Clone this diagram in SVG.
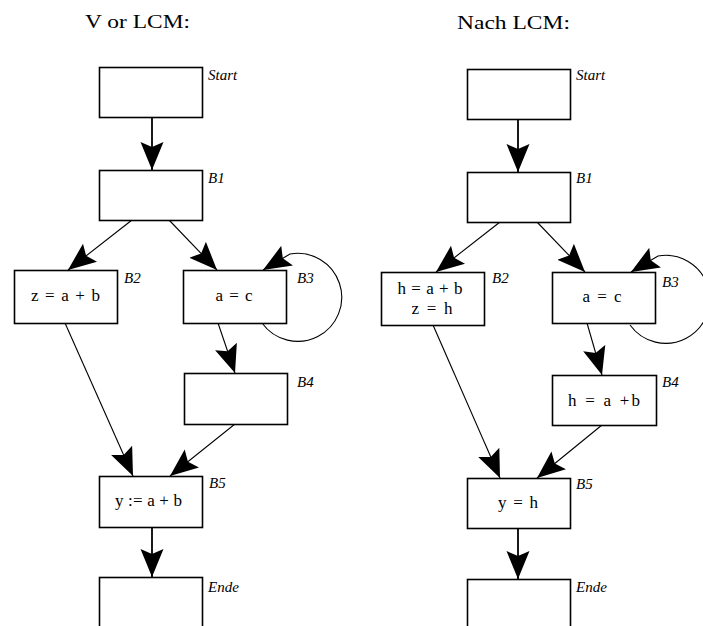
<svg xmlns="http://www.w3.org/2000/svg" width="703" height="626" viewBox="0 0 703 626">
<style>
.box{fill:#fff;stroke:#000;stroke-width:1.6}
.edge{fill:none;stroke:#000;stroke-width:1.1}
.vedge{fill:none;stroke:#000;stroke-width:1.8}
.t{font-family:"Liberation Serif",serif;font-size:17px;text-anchor:middle;fill:#000}
.lbl{font-family:"Liberation Serif",serif;font-style:italic;font-size:15px;fill:#000}
.title{font-family:"Liberation Serif",serif;font-size:19px;fill:#000}
</style>
<defs>
<marker id="ah" markerUnits="userSpaceOnUse" viewBox="0 0 28 24" refX="28" refY="12" markerWidth="28" markerHeight="24" orient="auto">
<path d="M0,0.5 L28,12 L0,23.5 L5,12 z" fill="#000"/>
</marker>
</defs>
<rect width="703" height="626" fill="#fff"/>
<text class="title" x="85" y="28" textLength="105" lengthAdjust="spacingAndGlyphs">V or LCM:</text>
<text class="title" x="457" y="29" textLength="113" lengthAdjust="spacingAndGlyphs">Nach LCM:</text>

<g id="connectors">
<path class="vedge" d="M152,117 L152,170" marker-end="url(#ah)"/>
<path class="edge" d="M132,220 L68,270" marker-end="url(#ah)"/>
<path class="edge" d="M169,220 L217,270" marker-end="url(#ah)"/>
<path class="edge" d="M262,323 A44,44 0 1 0 290,254 L263,270" marker-end="url(#ah)"/>
<path class="edge" d="M218,323 L235,373" marker-end="url(#ah)"/>
<path class="edge" d="M65,323 L133,476" marker-end="url(#ah)"/>
<path class="edge" d="M235,424 L170,476" marker-end="url(#ah)"/>
<path class="vedge" d="M152,527 L152,577" marker-end="url(#ah)"/>

<path class="vedge" d="M518,119 L518,172" marker-end="url(#ah)"/>
<path class="edge" d="M500,222 L436,272" marker-end="url(#ah)"/>
<path class="edge" d="M537,222 L585,272" marker-end="url(#ah)"/>
<path class="edge" d="M630,325 A44,44 0 1 0 658,256 L631,272" marker-end="url(#ah)"/>
<path class="edge" d="M587,323 L602,375" marker-end="url(#ah)"/>
<path class="edge" d="M433,325 L500,478" marker-end="url(#ah)"/>
<path class="edge" d="M602,425 L537,478" marker-end="url(#ah)"/>
<path class="vedge" d="M518,528 L518,579" marker-end="url(#ah)"/>
</g>

<g id="L-Start"><rect class="box" x="99.5" y="67.5" width="103" height="50"/><text class="lbl" x="208" y="80">Start</text></g>
<g id="L-B1"><rect class="box" x="99.5" y="170.5" width="103" height="50"/><text class="lbl" x="208" y="183">B1</text></g>
<g id="L-B2"><rect class="box" x="14.5" y="270.5" width="103" height="53"/><text class="t" x="65.5" y="301" textLength="69">z = a + b</text><text class="lbl" x="124" y="283">B2</text></g>
<g id="L-B3"><rect class="box" x="183.5" y="270.5" width="103" height="53"/><text class="t" x="234" y="301" textLength="37">a = c</text><text class="lbl" x="297" y="283">B3</text></g>
<g id="L-B4"><rect class="box" x="184.5" y="373.5" width="103" height="51"/><text class="lbl" x="297" y="387">B4</text></g>
<g id="L-B5"><rect class="box" x="99.5" y="476.5" width="103" height="51"/><text class="t" x="148.5" y="506" textLength="67">y := a + b</text><text class="lbl" x="209" y="488">B5</text></g>
<g id="L-Ende"><rect class="box" x="99.5" y="577.5" width="103" height="60"/><text class="lbl" x="208" y="592">Ende</text></g>

<g id="R-Start"><rect class="box" x="467.5" y="69.5" width="103" height="50"/><text class="lbl" x="576" y="80">Start</text></g>
<g id="R-B1"><rect class="box" x="467.5" y="172.5" width="103" height="50"/><text class="lbl" x="576" y="183">B1</text></g>
<g id="R-B2"><rect class="box" x="381.5" y="272.5" width="103" height="53"/><text class="t" x="430" y="294" textLength="65">h = a + b</text><text class="t" x="432" y="314" textLength="41">z = h</text><text class="lbl" x="492" y="283">B2</text></g>
<g id="R-B3"><rect class="box" x="552.5" y="272.5" width="103" height="51"/><text class="t" x="602" y="302" textLength="39">a = c</text><text class="lbl" x="662" y="287">B3</text></g>
<g id="R-B4"><rect class="box" x="552.5" y="375.5" width="104" height="50"/><text class="t" x="604" y="406" textLength="72">h = a +b</text><text class="lbl" x="662" y="387">B4</text></g>
<g id="R-B5"><rect class="box" x="467.5" y="478.5" width="103" height="50"/><text class="t" x="518" y="508" textLength="40">y = h</text><text class="lbl" x="576" y="489">B5</text></g>
<g id="R-Ende"><rect class="box" x="467.5" y="579.5" width="103" height="60"/><text class="lbl" x="576" y="592">Ende</text></g>
</svg>
